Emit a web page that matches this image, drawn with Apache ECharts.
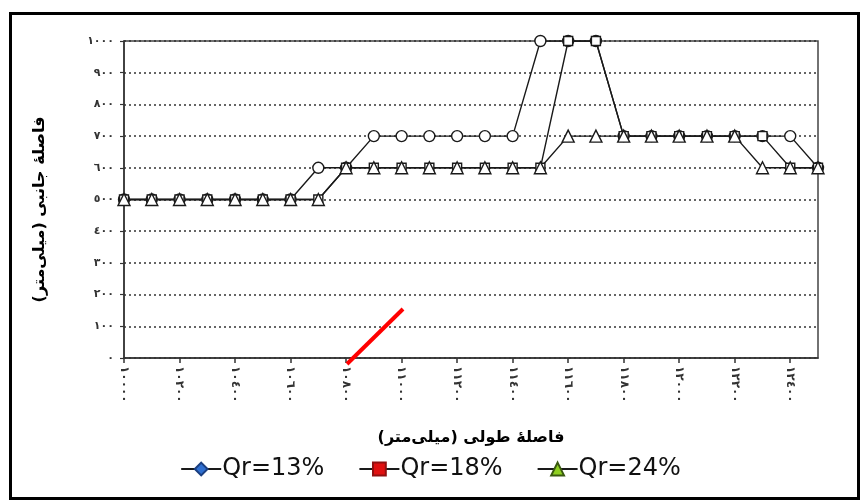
<!DOCTYPE html>
<html>
<head>
<meta charset="utf-8">
<script src="https://cdn.jsdelivr.net/npm/echarts@6/dist/echarts.min.js"></script>
<style>html,body{margin:0;padding:0;background:#fff}#c{width:861px;height:500px}</style>
</head>
<body>
<div id="c"></div>
<script>
// ---- data ----
const categories = [10000,10100,10200,10300,10400,10500,10600,10700,10800,10900,11000,11100,11200,11300,11400,11500,11600,11700,11800,11900,12000,12100,12200,12300,12400,12500];
const qr13 = [500,500,500,500,500,500,500,600,600,700,700,700,700,700,700,1000,1000,1000,700,700,700,700,700,700,700,600];
const qr18 = [500,500,500,500,500,500,500,500,600,600,600,600,600,600,600,600,1000,1000,700,700,700,700,700,700,600,600];
const qr24 = [500,500,500,500,500,500,500,500,600,600,600,600,600,600,600,600,700,700,700,700,700,700,700,600,600,600];
const seriesNames = ['Qr=13%','Qr=18%','Qr=24%'];
const yTicks = [0,100,200,300,400,500,600,700,800,900,1000];
const xAxisTitle = '\u200Fفاصلهٔ طولی (میلی\u200Cمتر)\u200F';
const yAxisTitle = '\u200Fفاصلهٔ جانبی (میلی\u200Cمتر)\u200F';

const AR = ['٠','١','٢','٣','٤','٥','٦','٧','٨','٩'];
function ar(n){ return String(n).replace(/[0-9]/g, d => AR[+d]); }

const chart = echarts.init(document.getElementById('c'), null, {renderer:'canvas'});

function mk(name, values, pointSymbol, pointSize, legendSymbol, legendColor, legendBorder){
  return {
    name: name,
    type: 'line',
    symbol: legendSymbol,
    symbolSize: pointSize,
    itemStyle: {color: legendColor, borderColor: legendBorder, borderWidth: 1},
    lineStyle: {color: '#1a1a1a', width: 1.4},
    emphasis: {disabled: true},
    animation: false,
    data: values.map(v => ({
      value: v,
      symbol: pointSymbol,
      symbolSize: pointSize,
      itemStyle: {color: '#fff', borderColor: '#1a1a1a', borderWidth: 1.4}
    }))
  };
}

chart.setOption({
  animation: false,
  backgroundColor: '#fff',
  grid: {left: 124, right: 43, top: 41, bottom: 142, show: true, borderColor: '#444', borderWidth: 1.5, backgroundColor: 'transparent'},
  xAxis: {
    type: 'category',
    data: categories,
    boundaryGap: false,
    name: xAxisTitle,
    nameLocation: 'middle',
    nameGap: 72,
    nameTextStyle: {fontFamily: 'DejaVu Sans', fontWeight: 'bold', fontSize: 16, color: '#000'},
    axisLine: {lineStyle: {color: '#333', width: 1.5}},
    axisTick: {show: true, interval: 1, length: 5, lineStyle: {color: '#333', width: 1.5}},
    axisLabel: {interval: 1, rotate: -90, margin: 8, fontSize: 12, fontWeight: 'bold', color: '#333', fontFamily: 'DejaVu Sans', formatter: v => ar(v)},
    splitLine: {show: false}
  },
  yAxis: {
    type: 'value',
    min: yTicks[0],
    max: yTicks[yTicks.length-1],
    interval: yTicks[1]-yTicks[0],
    name: yAxisTitle,
    nameLocation: 'middle',
    nameGap: 76,
    nameTextStyle: {fontFamily: 'DejaVu Sans', fontWeight: 'bold', fontSize: 16, color: '#000', padding: [0, 20, 0, 0]},
    axisLine: {show: true, lineStyle: {color: '#333', width: 1.5}},
    axisTick: {show: true, length: 4, lineStyle: {color: '#333', width: 1.2}},
    axisLabel: {margin: 10, fontSize: 11, fontWeight: 'bold', color: '#333', fontFamily: 'DejaVu Sans', formatter: v => ar(v)},
    splitLine: {show: true, lineStyle: {color: '#333', width: 1.5, type: [2, 3]}}
  },
  legend: {
    data: seriesNames,
    top: 452,
    left: 'center',
    itemWidth: 40,
    itemHeight: 16,
    itemGap: 34,
    selectedMode: false,
    textStyle: {fontFamily: 'DejaVu Sans', fontSize: 24, color: '#111', padding: [0,0,0,-4]},
    lineStyle: {width: 2}
  },
  series: [
    mk(seriesNames[0], qr13, 'circle', 11, 'diamond', '#2f6fd0', '#1b3f80'),
    mk(seriesNames[1], qr18, 'rect', 9, 'rect', '#e01010', '#901010'),
    mk(seriesNames[2], qr24, 'triangle', 12, 'triangle', '#8fd020', '#3a5a10')
  ],
  graphic: [
    {type: 'rect', left: 8, top: 11, silent: true, shape: {width: 848, height: 485}, style: {fill: 'none', stroke: '#000', lineWidth: 3}, z: 100},
    {type: 'line', silent: true, shape: {x1: 347, y1: 364, x2: 403, y2: 309}, style: {stroke: '#ff0000', lineWidth: 4}, z: 100}
  ]
});
</script>
</body>
</html>
